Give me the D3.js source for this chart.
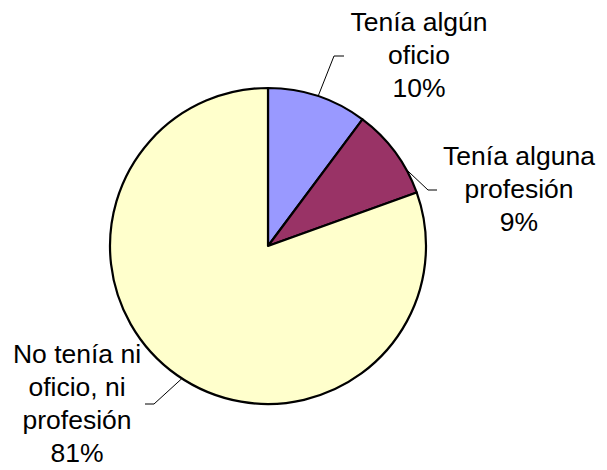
<!DOCTYPE html>
<html>
<head>
<meta charset="utf-8">
<script src="https://cdn.jsdelivr.net/npm/d3@7"></script>
<style>
  body { margin: 0; background: #fff; }
  text { font-family: "Liberation Sans", Arial, sans-serif; fill: #000; }
</style>
</head>
<body>
<div id="chart"></div>
<script>
// data
var categories = [
  ["Tenía algún", "oficio"],
  ["Tenía alguna", "profesión"],
  ["No tenía ni", "oficio, ni", "profesión"]
];
var values = [10.2, 9.3, 80.5];
var colors = ["#9999FF", "#993366", "#FFFFCC"];

var width = 607, height = 470;
var cx = 268, cy = 246, radius = 158;
var fontSize = 26.5, lineH = 33;

// label placement: text centre x, first line y, leader start angle (deg), elbow, end
var labelPos = [
  { x: 419, y: 31, ang: 18.5, elbow: [334, 56], end: [344, 56] },
  { x: 519, y: 165, ang: 61, elbow: [428, 190], end: [437, 190] },
  { x: 77, y: 363, ang: 213, elbow: [154, 404], end: [145, 404] }
];

var total = d3.sum(values);

var svg = d3.select("#chart")
            .append("svg")
            .attr("width", width)
            .attr("height", height);

var pie = d3.pie().sort(null).value(function(d) { return d; });
var arc = d3.arc().innerRadius(0).outerRadius(radius);

var g = svg.append("g").attr("transform", "translate(" + cx + "," + cy + ")");

g.selectAll("path")
  .data(pie(values))
  .enter()
  .append("path")
  .attr("d", arc)
  .style("fill", function(d, i) { return colors[i]; })
  .style("stroke", "#000")
  .style("stroke-width", 2.2)
  .style("stroke-linejoin", "round");

// leader lines
labelPos.forEach(function(p, i) {
  var a = p.ang * Math.PI / 180;
  var sx = cx + radius * Math.sin(a), sy = cy - radius * Math.cos(a);
  svg.append("polyline")
    .attr("points", [[sx, sy], p.elbow, p.end].map(function(q) { return q.join(","); }).join(" "))
    .style("fill", "none")
    .style("stroke", "#000")
    .style("stroke-width", 1);
});

// labels
labelPos.forEach(function(p, i) {
  var lines = categories[i].concat([Math.round(values[i] / total * 100) + "%"]);
  var t = svg.append("text")
    .attr("text-anchor", "middle")
    .style("font-size", fontSize + "px");
  lines.forEach(function(s, j) {
    t.append("tspan").attr("x", p.x).attr("y", p.y + j * lineH).text(s);
  });
});
</script>
</body>
</html>
